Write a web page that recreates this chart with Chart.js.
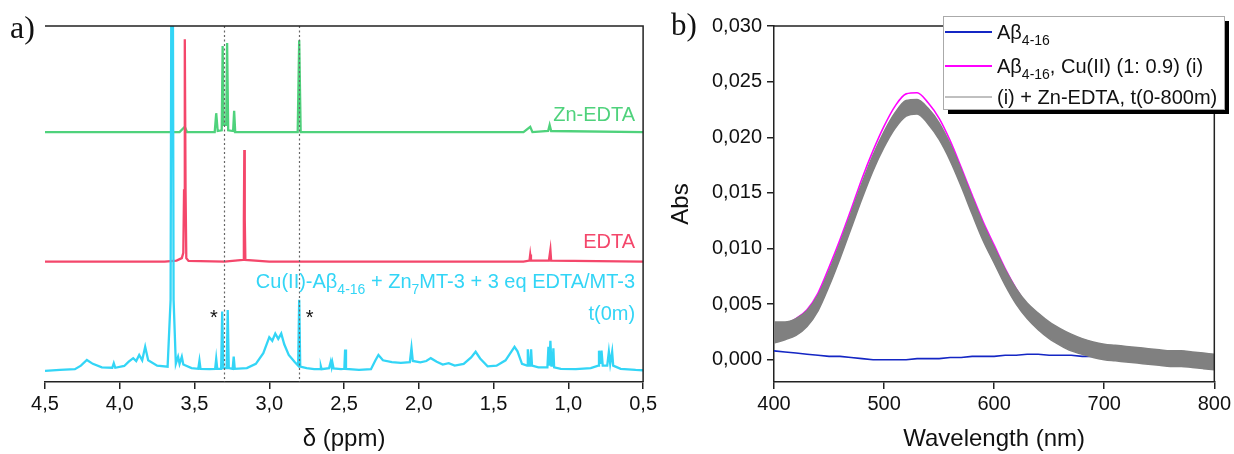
<!DOCTYPE html>
<html>
<head>
<meta charset="utf-8">
<script src="https://cdn.jsdelivr.net/npm/chart.js@4.4.1/dist/chart.umd.min.js"></script>
<style>
  html, body { margin: 0; padding: 0; background: #fff; }
  #wrap { position: relative; width: 1234px; height: 454px; }
  #nmr { position: absolute; left: 0; top: 0; }
  #uv { position: absolute; left: 660px; top: 0; }
</style>
</head>
<body>
<div id="wrap">
  <canvas id="nmr" width="660" height="454"></canvas>
  <canvas id="uv" width="574" height="454"></canvas>
</div>
<script>
// ---- panel a) 1H NMR, [ppm, intensity above own baseline] ----
const cyanSpectrum = [
  [4.50,0.0],[4.40,0.3],[4.30,0.5],[4.26,1.5],[4.22,3.1],[4.18,2.0],[4.12,1.0],[4.05,0.9],[4.04,2.2],[4.03,0.9],
  [3.97,1.4],[3.94,2.6],[3.91,3.6],[3.89,2.8],[3.87,4.5],[3.85,3.0],[3.83,6.8],[3.81,3.0],[3.75,1.5],[3.68,1.2],
  [3.66,20],[3.655,110],[3.645,110],[3.64,20],[3.625,2.0],[3.61,4.0],[3.60,2.0],[3.585,4.0],[3.575,1.8],[3.52,0.8],
  [3.475,0.6],[3.467,2.9],[3.46,0.6],[3.40,0.5],[3.362,0.6],[3.355,3.4],[3.348,0.6],[3.322,0.6],[3.315,16.7],[3.308,0.8],
  [3.285,0.8],[3.278,17.1],[3.271,0.8],[3.245,0.6],[3.238,4.0],[3.231,0.6],[3.15,0.8],[3.09,2.0],[3.04,5.0],[3.00,9.5],
  [2.98,8.5],[2.96,10.5],[2.94,9.0],[2.92,10.5],[2.90,7.5],[2.87,4.5],[2.83,2.5],[2.807,1.5],[2.800,20],[2.793,1.2],
  [2.75,0.8],[2.70,0.5],[2.66,0.5],[2.655,1.3],[2.65,0.5],[2.60,0.8],[2.589,2.6],[2.583,1.2],[2.578,2.4],[2.57,0.7],
  [2.52,0.5],[2.498,0.6],[2.493,6.0],[2.487,0.6],[2.40,0.3],[2.32,0.5],[2.29,3.0],[2.27,4.5],[2.24,3.0],[2.18,2.5],
  [2.12,2.3],[2.06,2.5],[2.049,6.5],[2.04,2.8],[1.99,2.4],[1.95,2.8],[1.92,3.6],[1.88,2.6],[1.84,1.8],[1.80,2.2],
  [1.76,1.5],[1.70,2.0],[1.65,3.8],[1.62,5.4],[1.59,3.5],[1.54,1.3],[1.48,1.5],[1.42,3.0],[1.38,5.5],[1.36,6.8],
  [1.34,5.5],[1.31,2.0],[1.276,1.5],[1.271,6.1],[1.265,1.5],[1.255,1.5],[1.249,6.1],[1.243,1.5],[1.20,1.0],[1.14,1.0],
  [1.133,6.8],[1.127,1.5],[1.12,8.5],[1.113,1.5],[1.105,1.5],[1.10,6.4],[1.095,1.0],[1.05,0.6],[0.95,0.5],[0.85,0.8],
  [0.80,1.5],[0.795,5.7],[0.787,2.0],[0.778,5.7],[0.77,1.5],[0.74,1.5],[0.729,5.4],[0.72,2.0],[0.707,5.4],[0.70,1.5],
  [0.65,0.6],[0.55,0.3],[0.50,0.2]
];
const edtaSpectrum = [
  [4.50,0],[3.70,0],[3.62,0.3],[3.585,1.0],[3.575,2.5],[3.570,20],[3.565,62.5],[3.560,20],[3.555,1.0],[3.54,0.2],
  [3.30,0],[3.175,0.5],[3.170,12],[3.167,31.4],[3.164,12],[3.16,0.5],[3.00,0],[1.30,0],[1.26,0.3],[1.255,2.0],
  [1.25,0.3],[1.13,0.3],[1.12,3.3],[1.115,0.3],[0.50,0]
];
const znEdtaSpectrum = [
  [4.50,0],[3.60,0],[3.565,1.5],[3.55,0],[3.365,0],[3.355,5.3],[3.345,0.3],[3.318,0.5],[3.312,24.2],[3.305,2],
  [3.288,2],[3.282,25],[3.275,0.5],[3.242,0.3],[3.235,6],[3.228,0],[2.81,0],[2.80,25.8],[2.79,0],[1.30,0],
  [1.255,1.5],[1.24,0],[1.135,0.3],[1.125,2.0],[1.115,0.3],[0.50,0]
];
const markerPpm = [3.30, 2.80];   // dotted guide lines
const starPpm = [3.37, 2.73];     // asterisks

// ---- panel b) UV-vis ----
const wavelengths = [400,410,420,430,440,450,460,470,480,490,500,510,520,530,540,550,560,570,580,590,600,
  610,620,630,640,650,660,670,680,690,700,710,720,730,740,750,760,770,780,790,800];
const absAbeta = [0.0008,0.0007,0.0006,0.0005,0.0004,0.0003,0.0003,0.0002,0.0001,0.0000,0.0000,0.0000,0.0000,
  0.0001,0.0001,0.0001,0.0002,0.0002,0.0003,0.0003,0.0003,0.0004,0.0004,0.0005,0.0005,0.0004,0.0004,0.0004,
  0.0003,0.0003,0.0003,0.0002,0.0002,0.0001,0.0001,0.0001,0.0001,0.0000,0.0000,0.0000,0.0000];
const absCu = [0.0030,0.0032,0.0037,0.0045,0.0060,0.0083,0.0108,0.0135,0.0163,0.0188,0.0210,0.0228,0.0239,
  0.0240,0.0231,0.0217,0.0197,0.0173,0.0148,0.0124,0.0103,0.0082,0.0064,0.0049,0.0037,0.0028,0.0021,0.0016,
  0.0013,0.0010,0.0008,0.0007,0.0006,0.0005,0.0004,0.0003,0.0002,0.0002,0.0001,0.0000,-0.0001];
const absZnHigh = [0.0034,0.0034,0.0037,0.0044,0.0058,0.0080,0.0105,0.0132,0.0159,0.0184,0.0205,0.0222,0.0233,
  0.0234,0.0226,0.0213,0.0194,0.0171,0.0146,0.0122,0.0101,0.0081,0.0064,0.0051,0.0042,0.0034,0.0028,0.0023,
  0.0019,0.0016,0.0014,0.0013,0.0012,0.0011,0.0010,0.0009,0.0008,0.0008,0.0007,0.0006,0.0005];
const absZnLow = [0.0015,0.0018,0.0022,0.0030,0.0044,0.0066,0.0091,0.0118,0.0145,0.0170,0.0191,0.0208,0.0219,
  0.0221,0.0212,0.0198,0.0179,0.0156,0.0131,0.0107,0.0087,0.0067,0.0050,0.0037,0.0027,0.0019,0.0013,0.0008,
  0.0005,0.0002,0.0000,-0.0001,-0.0002,-0.0003,-0.0004,-0.0005,-0.0006,-0.0006,-0.0007,-0.0008,-0.0009];
const absTicks = [0, 0.005, 0.010, 0.015, 0.020, 0.025, 0.030];

const seriesLabels = ["Aβ4-16", "Aβ4-16, Cu(II) (1: 0.9) (i)", "(i) + Zn-EDTA, t(0-800m)"];

const SANS = '"Liberation Sans", Arial, Helvetica, sans-serif';
const SERIF = '"Liberation Serif", "Times New Roman", serif';
Chart.defaults.font.family = SANS;
Chart.defaults.color = "#111";

const toPoints = (pairs, off) => pairs.map((p) => ({ x: p[0], y: p[1] + off }));
const zipPoints = (xs, ys) => xs.map((x, i) => ({ x: x, y: ys[i] }));

// text with subscripts: parts = [[text, isSub], ...]
function drawRich(ctx, parts, x, y, size, align) {
  const fontFor = (sub) => (sub ? Math.round(size * 0.7) : size) + "px " + SANS;
  let w = 0;
  parts.forEach((p) => { ctx.font = fontFor(p[1]); w += ctx.measureText(p[0]).width; });
  let cx = align === "right" ? x - w : x;
  ctx.textAlign = "left";
  ctx.textBaseline = "alphabetic";
  parts.forEach((p) => {
    ctx.font = fontFor(p[1]);
    ctx.fillText(p[0], cx, p[1] ? y + size * 0.32 : y);
    cx += ctx.measureText(p[0]).width;
  });
}

function drawFrame(chart) {
  const { ctx, chartArea: a } = chart;
  ctx.save();
  ctx.strokeStyle = "#222";
  ctx.lineWidth = 1.5;
  ctx.beginPath();
  ctx.moveTo(a.left, a.top);
  ctx.lineTo(a.right, a.top);
  ctx.lineTo(a.right, a.bottom);
  ctx.stroke();
  ctx.restore();
}

const axisCommon = {
  grid: { display: true, drawOnChartArea: false, drawTicks: true, tickLength: 7, color: "#222", lineWidth: 1.5 },
  border: { display: true, color: "#222", width: 1.5 },
};

// ---------- Chart a ----------
const OFFSETS = { cyan: 3.1, edta: 33.8, zn: 70.2 };
const GREEN = "#4fd27c", RED = "#f4476b", CYAN = "#33d5f6";

const nmrDeco = {
  id: "nmrDeco",
  afterDatasetsDraw(chart) {
    const { ctx, chartArea: a, scales } = chart;
    const sx = scales.x;
    ctx.save();
    ctx.strokeStyle = "#666";
    ctx.lineWidth = 1.2;
    ctx.setLineDash([2, 2.5]);
    markerPpm.forEach((v) => {
      const px = Math.round(sx.getPixelForValue(v)) + 0.5;
      ctx.beginPath();
      ctx.moveTo(px, a.top);
      ctx.lineTo(px, a.bottom);
      ctx.stroke();
    });
    ctx.setLineDash([]);
    const rx = a.right - 8;
    ctx.fillStyle = GREEN;
    drawRich(ctx, [["Zn-EDTA", 0]], rx, 120.5, 20, "right");
    ctx.fillStyle = RED;
    drawRich(ctx, [["EDTA", 0]], rx, 248, 20, "right");
    ctx.fillStyle = CYAN;
    drawRich(ctx, [["Cu(II)-Aβ", 0], ["4-16", 1], [" + Zn", 0], ["7", 1], ["MT-3 + 3 eq EDTA/MT-3", 0]], rx, 288, 20, "right");
    drawRich(ctx, [["t(0m)", 0]], rx, 320, 20, "right");
    ctx.fillStyle = "#111";
    ctx.font = "20px " + SANS;
    ctx.textAlign = "center";
    starPpm.forEach((v) => ctx.fillText("*", sx.getPixelForValue(v), 324));
    ctx.restore();
  },
  afterDraw(chart) {
    drawFrame(chart);
    const ctx = chart.ctx;
    ctx.save();
    ctx.fillStyle = "#111";
    ctx.font = "32px " + SERIF;
    ctx.textAlign = "left";
    ctx.textBaseline = "alphabetic";
    ctx.fillText("a)", 10, 38);
    ctx.restore();
  },
};

const nmrLine = (data, color) => ({
  data: data, borderColor: color, borderWidth: 2.3, pointRadius: 0, tension: 0, fill: false,
});

new Chart(document.getElementById("nmr"), {
  type: "line",
  data: {
    datasets: [
      nmrLine(toPoints(cyanSpectrum, OFFSETS.cyan), CYAN),
      nmrLine(toPoints(edtaSpectrum, OFFSETS.edta), RED),
      nmrLine(toPoints(znEdtaSpectrum, OFFSETS.zn), GREEN),
    ],
  },
  options: {
    responsive: false,
    animation: false,
    events: [],
    layout: { padding: { left: 45, right: 14, top: 26, bottom: 0 } },
    plugins: { legend: { display: false }, tooltip: { enabled: false } },
    scales: {
      x: {
        type: "linear", reverse: true, min: 0.5, max: 4.5,
        ...axisCommon,
        ticks: { stepSize: 0.5, padding: 3, font: { size: 20 }, maxRotation: 0,
          callback: (v) => v.toFixed(1).replace(".", ",") },
        title: { display: true, text: "δ (ppm)", font: { size: 24 }, padding: { top: 0, bottom: 0 } },
        afterFit: (s) => { s.height = 72; },
      },
      y: { type: "linear", display: false, min: 0, max: 100 },
    },
  },
  plugins: [nmrDeco],
});

// ---------- Chart b ----------
const BLUE = "#1426c4", MAGENTA = "#ff00ff", GREY = "#808080";
const legendParts = [
  [["A", 0], ["β", 0], [seriesLabels[0].slice(2), 1]],
  [["Aβ", 0], ["4-16", 1], [seriesLabels[1].slice(6), 0]],
  [[seriesLabels[2], 0]],
];

const uvDeco = {
  id: "uvDeco",
  afterDraw(chart) {
    drawFrame(chart);
    const ctx = chart.ctx;
    ctx.save();
    // legend with drop shadow
    const bx = 283, by = 16, bw = 281, bh = 93;
    ctx.fillStyle = "#000";
    ctx.fillRect(bx + 5, by + 5, bw, bh);
    ctx.fillStyle = "#fff";
    ctx.fillRect(bx, by, bw, bh);
    ctx.strokeStyle = "#aaa";
    ctx.lineWidth = 1;
    ctx.strokeRect(bx + 0.5, by + 0.5, bw, bh);
    const rows = [
      { y: 32, color: BLUE, w: 2 },
      { y: 66, color: MAGENTA, w: 2 },
      { y: 97, color: GREY, w: 1 },
    ];
    rows.forEach((r, i) => {
      ctx.strokeStyle = r.color;
      ctx.lineWidth = r.w;
      ctx.beginPath();
      ctx.moveTo(285, r.y);
      ctx.lineTo(332, r.y);
      ctx.stroke();
      ctx.fillStyle = "#111";
      drawRich(ctx, legendParts[i], 337, r.y + 6.5, 20, "left");
    });
    ctx.fillStyle = "#111";
    ctx.font = "31px " + SERIF;
    ctx.textAlign = "left";
    ctx.textBaseline = "alphabetic";
    ctx.fillText("b)", 11, 35);
    ctx.restore();
  },
};

new Chart(document.getElementById("uv"), {
  type: "line",
  data: {
    datasets: [
      { label: seriesLabels[2], data: zipPoints(wavelengths, absZnLow), borderColor: GREY, borderWidth: 1.5,
        pointRadius: 0, cubicInterpolationMode: "monotone", fill: false, order: 0 },
      { label: seriesLabels[2], data: zipPoints(wavelengths, absZnHigh), borderColor: GREY, borderWidth: 1.5,
        backgroundColor: GREY, pointRadius: 0, cubicInterpolationMode: "monotone", fill: "-1", order: 0 },
      { label: seriesLabels[1], data: zipPoints(wavelengths, absCu), borderColor: MAGENTA, borderWidth: 1.6,
        pointRadius: 0, cubicInterpolationMode: "monotone", fill: false, order: 1 },
      { label: seriesLabels[0], data: zipPoints(wavelengths, absAbeta), borderColor: BLUE, borderWidth: 1.6,
        pointRadius: 0, tension: 0, fill: false, order: 2 },
    ],
  },
  options: {
    responsive: false,
    animation: false,
    events: [],
    layout: { padding: { left: 0, right: 17, top: 26, bottom: 0 } },
    plugins: { legend: { display: false }, tooltip: { enabled: false } },
    scales: {
      x: {
        type: "linear", min: 400, max: 800,
        ...axisCommon,
        ticks: { stepSize: 100, padding: 3, font: { size: 20 }, maxRotation: 0 },
        title: { display: true, text: "Wavelength (nm)", font: { size: 24 }, padding: { top: 0, bottom: 0 } },
        afterFit: (s) => { s.height = 72; },
      },
      y: {
        type: "linear", min: -0.002, max: 0.030,
        ...axisCommon,
        ticks: { padding: 5, font: { size: 20 },
          callback: (v) => v.toFixed(3).replace(".", ",") },
        afterBuildTicks: (s) => { s.ticks = absTicks.map((v) => ({ value: v })); },
        title: { display: true, text: "Abs", font: { size: 24 }, padding: { top: 7, bottom: 0 } },
        afterFit: (s) => { s.width = 114; },
      },
    },
  },
  plugins: [uvDeco],
});
</script>
</body>
</html>
